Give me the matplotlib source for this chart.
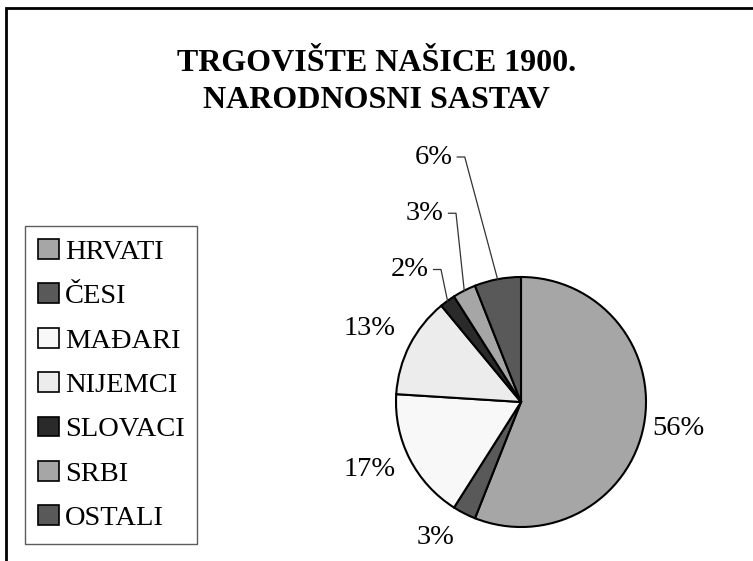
import numpy as np
import matplotlib.pyplot as plt
from matplotlib.patches import Rectangle

plt.rcParams['font.family'] = ['Liberation Serif', 'DejaVu Serif']

# data
groups = ['HRVATI', 'ČESI', 'MAĐARI', 'NIJEMCI', 'SLOVACI', 'SRBI', 'OSTALI']
shares = [56, 3, 17, 13, 2, 3, 6]
colors = ['#a6a6a6', '#595959', '#f8f8f8', '#ececec', '#2a2a2a', '#a6a6a6', '#595959']
title = 'TRGOVIŠTE NAŠICE 1900.\nNARODNOSNI SASTAV'

# label placement (in pie radius units, relative to centre)
label_pos = [(1.26, -0.21), (-0.68, -1.08), (-1.21, -0.54), (-1.21, 0.59),
             (-0.89, 1.06), (-0.77, 1.51), (-0.70, 1.96)]
leader = [False, False, False, False, True, True, True]

W, H = 753, 561
fig = plt.figure(figsize=(W / 100, H / 100), dpi=100)

# pie centre / radius in pixels
cx, cy, R = 521, 402, 125
ax = fig.add_axes([0, 0, 1, 1])

wedges, _ = ax.pie(shares, colors=colors, startangle=90, counterclock=False,
                   radius=1, wedgeprops=dict(edgecolor='black', linewidth=1.5))
ax.set_xlim(-cx / R, (W - cx) / R)
ax.set_ylim(-(H - cy) / R, cy / R)
ax.set_aspect('equal')
ax.axis('off')

total = sum(shares)
cum = np.cumsum([0] + shares)
for i, w in enumerate(wedges):
    mid = 90 - 360 * (cum[i] + shares[i] / 2) / total
    lx, ly = label_pos[i]
    ax.text(lx, ly, f'{shares[i] / total * 100:.0f}%', ha='center', va='center',
            fontsize=20.5)
    if leader[i]:
        ex, ey = np.cos(np.radians(mid)), np.sin(np.radians(mid))
        kx = lx + 0.25
        ax.plot([lx + 0.19, kx, ex], [ly, ly, ey], color='#333333', lw=0.9)

fig.text(0.5, 1 - 82 / H, title, ha='center', va='center', fontsize=23,
         fontweight='bold', linespacing=1.4)

leg = fig.legend(wedges, groups, loc='upper left',
                 bbox_to_anchor=(25 / W, 1 - 226 / H), fontsize=20.5,
                 frameon=True, fancybox=False, edgecolor='#333333',
                 handlelength=0.75, handleheight=0.7, handletextpad=0.2,
                 labelspacing=0.65, borderpad=0.45, borderaxespad=0)
leg.get_frame().set_linewidth(1.0)
for h in leg.legend_handles:
    h.set_linewidth(1.2)

# outer frame (right/bottom edges fall outside the picture)
fig.patches.append(Rectangle((6 / W, -0.1), 1.2, 1 - 8 / H + 0.1,
                             transform=fig.transFigure, fill=False,
                             edgecolor='black', linewidth=2))

fig.savefig('out.png', dpi=100)
